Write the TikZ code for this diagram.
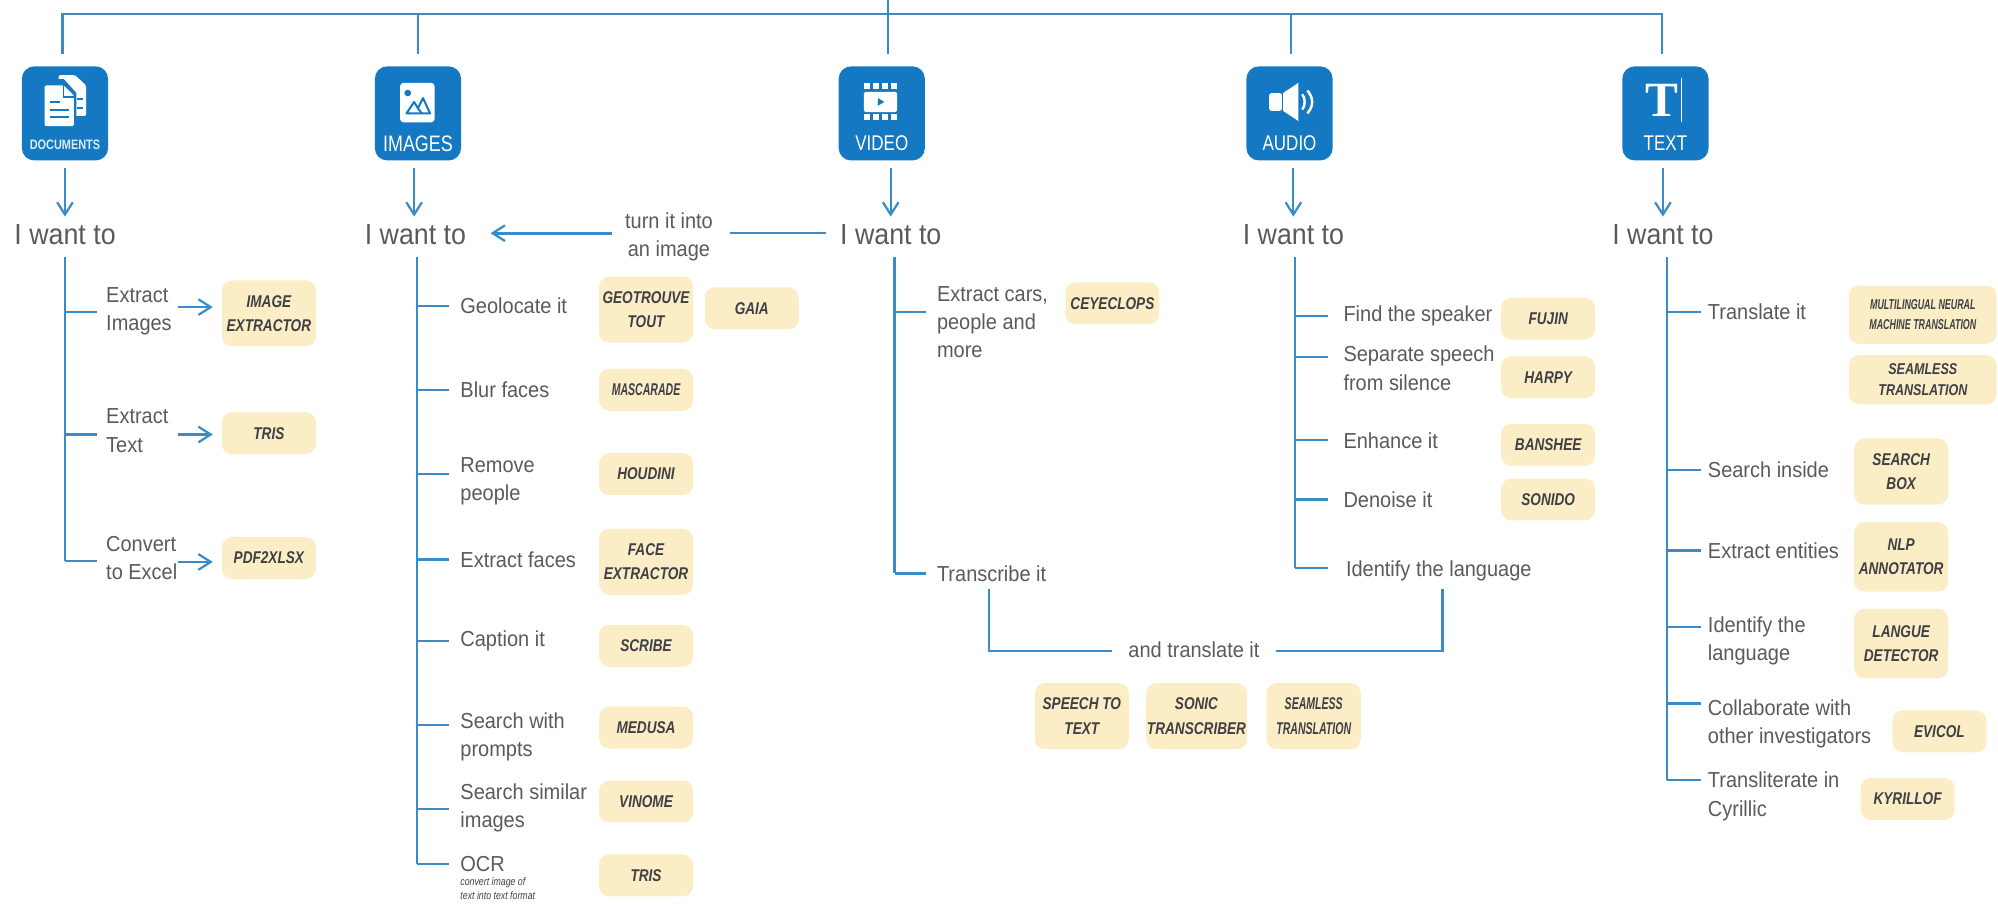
\documentclass[tikz,border=0pt]{standalone}
\usepackage{fontspec}
\setmainfont[FakeStretch=0.92]{Liberation Sans}
\newfontfamily\tagfont[FakeStretch=0.8]{Liberation Sans}
\newfontfamily\tagfontn[FakeStretch=0.62]{Liberation Sans}
\newfontfamily\serifT{Liberation Serif}
\usetikzlibrary{arrows.meta,calc}
\definecolor{bluel}{HTML}{3A8CC8}
\definecolor{iconb}{HTML}{1479C2}
\definecolor{tagc}{HTML}{FBEEC6}
\definecolor{tagt}{HTML}{3F3F45}
\definecolor{txt}{HTML}{5A5A5A}
\tikzset{
  conn/.style={draw=bluel,line width=1pt},
  arr/.style={conn,-{Straight Barb[length=5.5pt,width=7pt,line width=1pt]}},
  item/.style={anchor=west,inner sep=0pt,text=txt,font=\fontsize{9.7}{12.6}\selectfont,align=left},
  want/.style={anchor=west,inner sep=0pt,text=txt,font=\fontsize{13}{14}\selectfont},
  tagbox/.style={fill=tagc,rounded corners=4.5pt,inner sep=0pt,text=tagt,align=center,
     font=\tagfont\bfseries\itshape\fontsize{7.6}{10.8}\selectfont,minimum width=42pt,minimum height=18.7pt},
  tall/.style={minimum height=29.5pt},
  iconbox/.style={fill=iconb,rounded corners=5.5pt,minimum width=38.5pt,minimum height=42pt,inner sep=0pt},
  iconlab/.style={text=white,inner sep=0pt,font=\tagfont\fontsize{9.5}{10}\selectfont},
}
% \branchitem{name}{xtrunk}{xend}{ybranch}{xtext}{ytext}{text}
\newcommand{\branchitem}[7]{%
  \coordinate (#1-a) at (#2,#4);
  \coordinate (#1-b) at (#3,#4);
  \draw[conn] (#1-a) -- (#1-b);
  \node[item] (#1) at (#5,#6) {#7};
}
\begin{document}
\begin{tikzpicture}[x=0.02cm,y=-0.02cm]
\useasboundingbox (0,0) rectangle (1568,711);
% top rail
\coordinate (rootin) at (697,0);
\coordinate (railL) at (49,11);
\coordinate (railR) at (1304,11);
\coordinate (sI) at (328,11);
\coordinate (sA) at (1013,11);
\coordinate (eD) at (49,42);
\coordinate (eI) at (328,42);
\coordinate (eV) at (697,42);
\coordinate (eA) at (1013,42);
\coordinate (eT) at (1304,42);
\draw[conn] (eD) -- (railL) -- (railR) -- (eT);
\draw[conn] (rootin) -- (eV);
\draw[conn] (sI) -- (eI);
\draw[conn] (sA) -- (eA);
% icon boxes
\node[iconbox] (icD) at (51,89) {};
\node[iconbox] (icI) at (328,89) {};
\node[iconbox] (icV) at (692,89) {};
\node[iconbox] (icA) at (1012,89) {};
\node[iconbox] (icT) at (1307,89) {};
\node[iconlab,text=white!85!iconb,font=\tagfont\bfseries\fontsize{6.1}{7}\selectfont] (lbD) at (51,114) {DOCUMENTS};
\node[iconlab,font=\tagfont\fontsize{10}{10}\selectfont] (lbI) at (328,112.5) {IMAGES};
\node[iconlab] (lbV) at (692,112.5) {VIDEO};
\node[iconlab] (lbA) at (1012,112.5) {AUDIO};
\node[iconlab] (lbT) at (1307,112.5) {TEXT};
% document icon
\fill[white,rounded corners=0.6pt] (46,59) -- (59,59) -- (67.5,67) -- (67.5,91) -- (46,91) -- cycle;
\fill[iconb] (44,62) -- (50,62) -- (60,73) -- (60,92) -- (44,92) -- cycle;
\fill[white,rounded corners=0.6pt] (35,67) -- (50,67) -- (58,75) -- (58,99) -- (35,99) -- cycle;
\draw[iconb,line width=0.7pt] (50,67) -- (50,76) -- (58,76);
\draw[iconb,line width=0.9pt] (39,80) -- (47,80) (39,86) -- (54,86) (39,92) -- (54,92) (60.5,78) -- (65,78) (60.5,85) -- (65,85);
% image icon
\fill[white,rounded corners=1.5pt] (314,65) rectangle (341,96);
\fill[iconb] (320,73) circle (2.6);
\draw[iconb,line width=0.9pt,line join=round] (319,89) -- (325,80) -- (328,85) -- (332,77) -- (337.5,89) -- cycle;
\draw[iconb,line width=0.9pt] (328,85) -- (331,89);
% video icon
\fill[white,rounded corners=1pt] (678,72) rectangle (704,88);
\foreach \xx in {678,685,692,699}{
  \fill[white] (\xx,65.5) rectangle ++(5,4.5);
  \fill[white] (\xx,89.5) rectangle ++(5,4.5);
}
\fill[iconb] (689,77) -- (694,80) -- (689,83) -- cycle;
% audio icon
\fill[white,rounded corners=1pt] (996,73) rectangle (1006,87);
\fill[white] (1007,73) -- (1019,65) -- (1019,95) -- (1007,87) -- cycle;
\draw[white,line width=1.1pt] (1022,74) .. controls (1024.5,77) and (1024.5,83) .. (1022,86);
\draw[white,line width=1.1pt] (1026,71) .. controls (1031,77) and (1031,83) .. (1026,89);
% text icon
\node[text=white,inner sep=0pt,font=\serifT\bfseries\fontsize{22}{22}\selectfont] (glT) at (1304,79) {T};
\draw[white,line width=0.6pt] (1319.5,61) -- (1319.5,96);
% I want to
\node[want] (wD) at (11,184) {I want to};
\node[want] (wI) at (286,184) {I want to};
\node[want] (wV) at (659,184) {I want to};
\node[want] (wA) at (975,184) {I want to};
\node[want] (wT) at (1265,184) {I want to};
\coordinate (aD) at (51,132); \coordinate (bD) at (51,170);
\coordinate (aI) at (325,132); \coordinate (bI) at (325,170);
\coordinate (aV) at (699,132); \coordinate (bV) at (699,170);
\coordinate (aA) at (1015,132); \coordinate (bA) at (1015,170);
\coordinate (aT) at (1305,132); \coordinate (bT) at (1305,170);
\foreach \n in {D,I,V,A,T}{\draw[arr] (a\n) -- (b\n);}
% turn it into an image
\node[item,anchor=center,align=center] (turn) at (525,186) {turn it into\\an image};
\coordinate (vs) at (648,183); \coordinate (ve) at (573,183);
\coordinate (is) at (480,183); \coordinate (ie) at (385,183);
\draw[conn] (vs) -- (ve);
\draw[arr,line width=1.3pt] (is) -- (ie);
% ---- documents
\coordinate (trD0) at (51,202); \coordinate (trD1) at (51,440);
\draw[conn] (trD0) -- (trD1);
\branchitem{d1}{51}{76}{245}{83}{244}{Extract\\Images}
\branchitem{d2}{51}{76}{341}{83}{338}{Extract\\Text}
\branchitem{d3}{51}{76}{440}{83}{438}{Convert\\to Excel}
\node[tagbox,tall] (td1) at (211,246) {IMAGE\\EXTRACTOR};
\node[tagbox] (td2) at (211,340) {TRIS};
\node[tagbox] (td3) at (211,438) {PDF2XLSX};
\coordinate (sd1) at (140,241); \coordinate (ad1) at (167,241);
\coordinate (sd2) at (140,341); \coordinate (ad2) at (167,341);
\coordinate (sd3) at (140,441); \coordinate (ad3) at (167,441);
\draw[arr] (sd1) -- (ad1);
\draw[arr] (sd2) -- (ad2);
\draw[arr] (sd3) -- (ad3);
% ---- images
\coordinate (trI0) at (327,202); \coordinate (trI1) at (327,678);
\draw[conn] (trI0) -- (trI1);
\branchitem{i1}{327}{352}{240}{361}{240}{Geolocate it}
\branchitem{i2}{327}{352}{306}{361}{306}{Blur faces}
\branchitem{i3}{327}{352}{372}{361}{378}{Remove\\people}
\branchitem{i4}{327}{352}{439}{361}{439}{Extract faces}
\branchitem{i5}{327}{352}{503}{361}{503}{Caption it}
\branchitem{i6}{327}{352}{569}{361}{578}{Search with\\prompts}
\branchitem{i7}{327}{352}{635}{361}{634}{Search similar\\images}
\branchitem{i8}{327}{352}{678}{361}{678}{OCR}
\node[anchor=north west,inner sep=0pt,text=tagt,align=left,font=\tagfont\itshape\fontsize{4.9}{6.3}\selectfont] (i8s) at (361,688) {convert image of\\text into text format};
\node[tagbox,tall] (ti1) at (507,243) {GEOTROUVE\\TOUT};
\node[tagbox] (ti1b) at (590,242) {GAIA};
\node[tagbox,font=\tagfontn\bfseries\itshape\fontsize{7.6}{10}\selectfont] (ti2) at (507,306) {MASCARADE};
\node[tagbox] (ti3) at (507,372) {HOUDINI};
\node[tagbox,tall] (ti4) at (507,441) {FACE\\EXTRACTOR};
\node[tagbox] (ti5) at (507,507) {SCRIBE};
\node[tagbox] (ti6) at (507,571) {MEDUSA};
\node[tagbox] (ti7) at (507,629) {VINOME};
\node[tagbox] (ti8) at (507,687) {TRIS};
% ---- video
\coordinate (trV0) at (702,202); \coordinate (trV1) at (702,450);
\draw[conn] (trV0) -- (trV1);
\branchitem{v1}{702}{727}{245}{735}{253}{Extract cars,\\people and\\more}
\branchitem{v2}{702}{727}{450}{735}{450}{Transcribe it}
\node[tagbox] (tv1) at (873,238) {CEYECLOPS};
% ---- audio
\coordinate (trA0) at (1016,202); \coordinate (trA1) at (1016,446);
\draw[conn] (trA0) -- (trA1);
\branchitem{a1}{1016}{1042}{248}{1054}{248}{Find the speaker}
\branchitem{a2}{1016}{1042}{280}{1054}{289}{Separate speech\\from silence}
\branchitem{a3}{1016}{1042}{345}{1054}{346}{Enhance it}
\branchitem{a4}{1016}{1042}{392}{1054}{392}{Denoise it}
\branchitem{a5}{1016}{1042}{446}{1056}{448}{Identify the language}
\node[tagbox] (ta1) at (1215,250) {FUJIN};
\node[tagbox] (ta2) at (1215,296) {HARPY};
\node[tagbox] (ta3) at (1215,349) {BANSHEE};
\node[tagbox] (ta4) at (1215,392) {SONIDO};
% ---- and translate it
\node[item,anchor=center] (trl) at (937,510) {and translate it};
\coordinate (brL) at (776,462); \coordinate (brR) at (1132,462);
\coordinate (brLi) at (873,511); \coordinate (brRi) at (1001,511);
\draw[conn] (brL) |- (brLi);
\draw[conn] (brR) |- (brRi);
\node[tagbox,tall] (ts1) at (849,562) {SPEECH TO\\TEXT};
\node[tagbox,tall,minimum width=45pt] (ts2) at (939,562) {SONIC\\TRANSCRIBER};
\node[tagbox,tall,font=\tagfontn\bfseries\itshape\fontsize{7.6}{10.8}\selectfont] (ts3) at (1031,562) {SEAMLESS\\TRANSLATION};
% ---- text
\coordinate (trT0) at (1308,202); \coordinate (trT1) at (1308,612);
\draw[conn] (trT0) -- (trT1);
\branchitem{x1}{1308}{1335}{245}{1340}{245}{Translate it}
\branchitem{x2}{1308}{1335}{369}{1340}{369}{Search inside}
\branchitem{x3}{1308}{1335}{432}{1340}{432}{Extract entities}
\branchitem{x4}{1308}{1335}{492}{1340}{503}{Identify the\\language}
\branchitem{x5}{1308}{1335}{552}{1340}{568}{Collaborate with\\other investigators}
\branchitem{x6}{1308}{1335}{612}{1340}{625}{Transliterate in\\Cyrillic}
\node[tagbox,minimum width=66pt,minimum height=26pt,font=\tagfontn\bfseries\itshape\fontsize{6.4}{9}\selectfont] (tx1) at (1509,247) {MULTILINGUAL NEURAL\\MACHINE TRANSLATION};
\node[tagbox,minimum width=66pt,minimum height=22pt,font=\tagfont\bfseries\itshape\fontsize{7}{9.6}\selectfont] (tx1b) at (1509,298) {SEAMLESS\\TRANSLATION};
\node[tagbox,tall] (tx2) at (1492,370) {SEARCH\\BOX};
\node[tagbox,minimum height=31pt] (tx3) at (1492,437) {NLP\\ANNOTATOR};
\node[tagbox,minimum height=31pt] (tx4) at (1492,505) {LANGUE\\DETECTOR};
\node[tagbox] (tx5) at (1522,574) {EVICOL};
\node[tagbox] (tx6) at (1497,627) {KYRILLOF};
\end{tikzpicture}
\end{document}
